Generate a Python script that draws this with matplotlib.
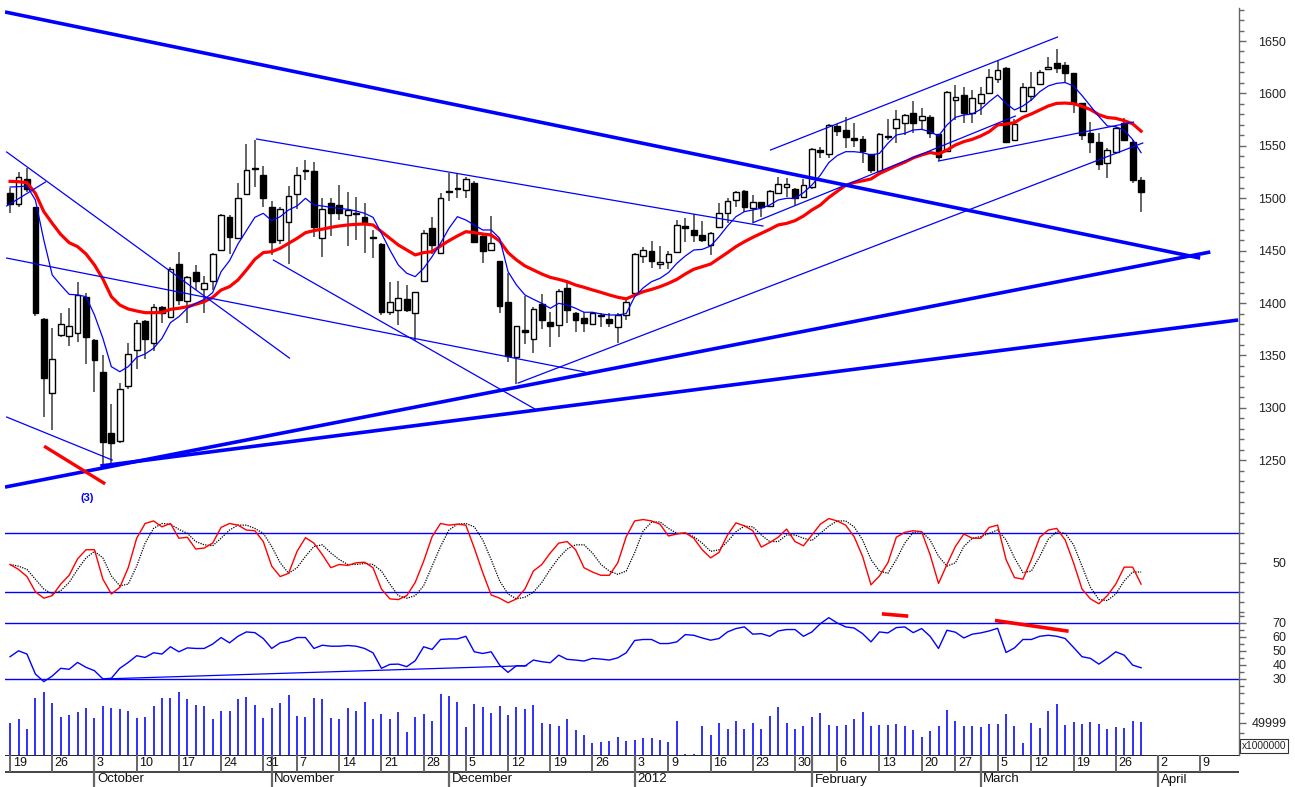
import numpy as np
import pandas as pd
import matplotlib
matplotlib.use('Agg')
import matplotlib.pyplot as plt
from matplotlib.ticker import FixedLocator, FixedFormatter, NullFormatter

plt.rcParams['font.family'] = ['Liberation Sans', 'DejaVu Sans']

# ---- daily candles (Sep 19 2011 .. Mar 29 2012) ----
opens = [1504.7, 1494.2, 1518.3, 1491.3, 1384.8, 1313.9, 1369.5, 1368.6, 1371.1, 1405.4,
         1364.7, 1333.9, 1276.3, 1268.7, 1321.2, 1355.2, 1382.9, 1362.2, 1395.9, 1386.4,
         1437.2, 1402.3, 1429.3, 1413.1, 1421.3, 1450.6, 1482.4, 1461.7, 1504.0, 1528.0,
         1522.0, 1491.3, 1460.1, 1477.6, 1504.0, 1526.0, 1526.0, 1461.7, 1495.1, 1493.2,
         1484.0, 1486.0, 1482.4, 1463.3, 1456.0, 1391.8, 1393.4, 1403.5, 1390.8, 1421.4,
         1471.3, 1447.4, 1506.9, 1509.0, 1507.9, 1514.8, 1464.0, 1450.6, 1440.1, 1400.7,
         1348.2, 1374.3, 1365.7, 1399.0, 1381.9, 1379.0, 1414.0, 1390.8, 1386.0, 1379.7,
         1388.0, 1385.1, 1377.5, 1388.6, 1410.0, 1444.9, 1450.0, 1437.0, 1438.8, 1449.0,
         1473.5, 1469.7, 1464.9, 1455.4, 1472.2, 1486.2, 1498.3, 1507.2, 1490.4, 1496.1,
         1492.9, 1505.3, 1511.0, 1508.5, 1501.5, 1511.0, 1546.0, 1542.2, 1568.9, 1565.1,
         1557.1, 1556.2, 1542.2, 1526.3, 1559.4, 1566.7, 1572.1, 1581.6, 1574.6, 1577.8,
         1561.3, 1545.4, 1593.7, 1598.5, 1581.0, 1591.2, 1600.0, 1613.4, 1623.9, 1555.6,
         1583.5, 1597.5, 1609.0, 1623.0, 1628.7, 1627.1, 1619.1, 1590.5, 1561.9, 1553.9,
         1533.3, 1544.4, 1571.4, 1553.9, 1517.3]
highs = [1509.4, 1525.0, 1529.0, 1492.0, 1386.0, 1375.9, 1390.2, 1395.0, 1420.4, 1409.9,
         1366.0, 1350.4, 1303.7, 1323.4, 1361.6, 1383.8, 1384.0, 1399.0, 1397.0, 1434.0,
         1449.0, 1426.0, 1436.3, 1426.1, 1448.0, 1484.6, 1484.0, 1514.8, 1551.7, 1556.0,
         1530.8, 1497.0, 1491.3, 1511.5, 1530.0, 1536.5, 1535.0, 1499.9, 1499.9, 1512.6,
         1506.3, 1501.5, 1495.8, 1470.0, 1457.0, 1420.4, 1421.4, 1417.2, 1410.4, 1469.7,
         1481.8, 1504.7, 1523.8, 1523.8, 1520.6, 1516.7, 1466.0, 1483.0, 1440.5, 1428.3,
         1378.5, 1407.0, 1396.6, 1408.3, 1391.8, 1413.0, 1420.4, 1391.0, 1391.8, 1391.0,
         1390.8, 1390.8, 1390.8, 1404.5, 1448.1, 1453.8, 1459.5, 1454.4, 1449.6, 1479.2,
         1480.8, 1484.9, 1478.6, 1468.0, 1495.8, 1499.9, 1507.2, 1507.5, 1503.1, 1496.5,
         1507.8, 1520.6, 1519.0, 1510.0, 1518.0, 1547.6, 1549.0, 1570.8, 1570.8, 1577.2,
         1572.0, 1559.4, 1542.5, 1561.9, 1575.3, 1584.2, 1580.0, 1593.0, 1585.8, 1579.4,
         1561.5, 1602.0, 1608.0, 1605.8, 1603.3, 1606.4, 1623.0, 1631.2, 1624.9, 1575.3,
         1610.2, 1620.7, 1622.3, 1635.0, 1642.0, 1630.3, 1619.5, 1591.0, 1573.0, 1561.9,
         1547.6, 1568.0, 1576.2, 1555.5, 1520.5]
lows = [1486.0, 1492.0, 1506.0, 1387.6, 1291.6, 1278.9, 1368.0, 1359.0, 1363.2, 1341.8,
        1315.4, 1243.9, 1247.0, 1266.0, 1318.0, 1336.8, 1346.3, 1354.6, 1381.3, 1385.4,
        1398.1, 1381.3, 1412.4, 1390.8, 1412.4, 1450.0, 1446.8, 1461.0, 1503.0, 1510.4,
        1491.3, 1446.0, 1456.3, 1437.0, 1490.0, 1517.0, 1463.0, 1443.6, 1464.0, 1479.2,
        1454.4, 1460.2, 1448.1, 1442.7, 1388.6, 1389.0, 1379.1, 1391.8, 1363.8, 1421.0,
        1446.8, 1447.0, 1497.7, 1500.0, 1499.9, 1457.0, 1437.9, 1450.0, 1390.8, 1344.1,
        1322.8, 1361.0, 1352.0, 1374.9, 1358.4, 1367.9, 1381.3, 1372.7, 1372.7, 1379.0,
        1376.8, 1377.5, 1361.6, 1383.8, 1409.0, 1438.0, 1433.0, 1432.2, 1432.2, 1449.0,
        1458.6, 1458.6, 1458.6, 1445.8, 1472.0, 1476.7, 1491.3, 1487.2, 1477.0, 1482.4,
        1492.5, 1505.0, 1500.8, 1493.5, 1501.0, 1509.0, 1538.0, 1538.0, 1559.4, 1547.6,
        1548.6, 1533.9, 1523.8, 1526.0, 1555.6, 1552.4, 1560.3, 1561.9, 1565.1, 1557.1,
        1535.8, 1544.4, 1574.6, 1571.5, 1571.5, 1579.4, 1599.5, 1610.2, 1552.4, 1555.0,
        1583.0, 1593.0, 1608.5, 1622.3, 1619.8, 1611.2, 1581.0, 1555.5, 1542.8, 1526.9,
        1519.0, 1542.8, 1555.0, 1514.2, 1487.1]
closes = [1494.5, 1520.6, 1508.5, 1390.2, 1328.2, 1346.6, 1380.0, 1378.1, 1407.7, 1367.3,
          1345.7, 1267.7, 1266.2, 1318.3, 1351.4, 1381.3, 1365.4, 1396.5, 1390.2, 1432.2,
          1402.9, 1425.2, 1421.0, 1419.4, 1446.8, 1484.0, 1463.3, 1499.9, 1526.5, 1529.0,
          1500.0, 1458.0, 1489.4, 1501.8, 1521.8, 1527.0, 1472.2, 1490.0, 1486.2, 1486.2,
          1488.8, 1485.0, 1476.7, 1461.8, 1391.8, 1401.3, 1404.5, 1393.4, 1410.2, 1466.5,
          1455.4, 1499.9, 1505.6, 1510.0, 1518.3, 1458.6, 1450.0, 1457.0, 1397.5, 1349.5,
          1378.1, 1372.7, 1394.0, 1383.8, 1378.1, 1411.5, 1393.4, 1383.8, 1380.7, 1390.8,
          1389.0, 1380.7, 1388.6, 1401.3, 1446.8, 1451.0, 1440.4, 1439.0, 1446.8, 1474.5,
          1471.3, 1464.9, 1460.1, 1466.5, 1485.6, 1497.3, 1505.6, 1491.9, 1496.7, 1491.3,
          1507.2, 1513.2, 1513.2, 1500.5, 1512.6, 1546.7, 1544.0, 1569.9, 1564.5, 1558.1,
          1555.6, 1545.4, 1526.9, 1561.3, 1558.1, 1575.3, 1579.4, 1571.5, 1578.4, 1561.9,
          1539.0, 1601.7, 1596.9, 1581.6, 1595.3, 1599.1, 1615.3, 1622.3, 1554.0, 1570.8,
          1605.8, 1605.8, 1620.7, 1625.5, 1624.0, 1619.2, 1590.5, 1560.3, 1553.9, 1532.3,
          1546.0, 1567.3, 1555.5, 1517.3, 1505.6]

# moving averages as drawn (thin blue = fast, thick red = slow)
ma_fast = [1510.7, 1511.0, 1511.7, 1498.3, 1460.1, 1426.7, 1417.2, 1408.3, 1407.7, 1406.1,
           1388.6, 1366.3, 1339.3, 1334.5, 1339.3, 1348.2, 1351.4, 1356.8, 1366.3, 1381.3,
           1387.0, 1395.0, 1399.7, 1403.5, 1409.9, 1429.9, 1440.4, 1456.3, 1469.1, 1481.8,
           1485.6, 1478.6, 1482.4, 1488.8, 1492.6, 1499.9, 1493.5, 1492.6, 1491.3, 1490.4,
           1489.4, 1487.8, 1485.6, 1481.8, 1466.5, 1450.6, 1436.3, 1428.4, 1425.2, 1433.1,
           1444.3, 1457.0, 1471.3, 1482.4, 1479.2, 1474.5, 1469.7, 1469.7, 1461.8, 1429.9,
           1417.2, 1407.7, 1403.6, 1399.7, 1395.0, 1399.7, 1398.1, 1395.0, 1391.2, 1391.2,
           1389.6, 1388.6, 1388.6, 1390.0, 1406.0, 1414.4, 1420.4, 1423.6, 1429.0, 1437.9,
           1444.9, 1450.6, 1451.2, 1454.4, 1463.3, 1473.5, 1482.4, 1487.2, 1488.8, 1490.4,
           1493.5, 1498.3, 1499.9, 1499.9, 1505.3, 1512.6, 1522.0, 1534.0, 1540.7, 1544.4,
           1544.4, 1543.5, 1541.2, 1542.8, 1552.4, 1560.3, 1561.9, 1565.1, 1565.7, 1563.5,
           1559.4, 1569.9, 1577.2, 1579.4, 1580.4, 1584.8, 1592.1, 1598.5, 1590.5, 1584.2,
           1588.0, 1593.7, 1601.7, 1607.1, 1609.6, 1610.4, 1607.0, 1598.0, 1588.0, 1578.0,
           1569.0, 1568.2, 1565.0, 1556.0, 1543.5]
ma_slow = [1516.1, 1515.8, 1514.8, 1504.7, 1487.2, 1476.0, 1465.5, 1457.6, 1453.8, 1446.8,
           1436.3, 1422.9, 1406.1, 1398.1, 1394.3, 1392.4, 1390.8, 1390.8, 1391.1, 1394.0,
           1395.0, 1396.5, 1398.8, 1401.3, 1405.4, 1412.4, 1415.6, 1422.0, 1431.5, 1441.7,
           1448.1, 1449.0, 1452.2, 1457.0, 1461.7, 1467.1, 1469.1, 1470.5, 1472.2, 1473.5,
           1474.5, 1475.1, 1475.4, 1474.5, 1468.1, 1461.8, 1455.4, 1450.6, 1445.9, 1448.1,
           1449.0, 1454.4, 1459.5, 1464.0, 1468.1, 1467.2, 1465.9, 1464.9, 1459.2, 1448.1,
           1441.1, 1435.4, 1431.5, 1427.7, 1424.5, 1422.6, 1420.4, 1417.2, 1415.0, 1412.5,
           1410.2, 1407.7, 1405.5, 1404.0, 1407.5, 1410.8, 1413.0, 1415.6, 1418.8, 1422.6,
           1427.7, 1432.2, 1434.7, 1437.2, 1442.6, 1448.1, 1453.8, 1458.5, 1462.7, 1466.5,
           1470.3, 1474.5, 1476.0, 1478.6, 1483.0, 1488.8, 1493.5, 1500.7, 1506.6, 1512.3,
           1515.0, 1516.6, 1518.4, 1523.5, 1527.3, 1531.0, 1534.4, 1538.5, 1541.3, 1543.6,
           1542.2, 1546.0, 1550.8, 1554.0, 1556.2, 1559.4, 1563.5, 1569.9, 1570.8, 1572.1,
           1577.2, 1580.4, 1584.2, 1588.0, 1590.5, 1590.8, 1590.2, 1587.8, 1584.6, 1579.7,
           1577.0, 1576.2, 1574.0, 1571.0, 1564.0]

# stochastic %K / %D
stoch_k = [48, 43, 35.7, 20.3, 13.7, 16.3, 28, 37, 53.7, 63,
           63, 33, 18, 24.7, 44.7, 74.7, 89.7, 92.3, 86.3, 89.7,
           74.7, 75.7, 63.7, 64.7, 69.7, 85.7, 89.7, 88, 83, 82.3,
           71.3, 46.3, 35.7, 39, 61.3, 75.3, 69.7, 58, 44.7, 48,
           47, 49.7, 50.3, 44.7, 23, 13, 12.3, 16.3, 29.7, 51.3,
           76.3, 89.7, 88, 89, 88, 64.7, 39.7, 17, 13.7, 9,
           13, 23, 41.3, 48, 59.7, 69.7, 71.3, 63, 44.7, 40.3,
           37, 37, 49.7, 76.3, 92.3, 93.7, 92.3, 89, 77, 79,
           80.3, 74.7, 63, 54.7, 60.3, 78, 90.3, 87.3, 82.3, 65.7,
           70.3, 75.7, 84, 71.3, 67, 78, 89, 94.7, 92.3, 88,
           76.3, 56.3, 27.3, 36.3, 49.7, 75.7, 80.7, 82.3, 81.3, 58,
           28.7, 48, 66.3, 79, 74.7, 74.7, 85.7, 88, 53, 34.7,
           33, 53, 75.7, 83, 84.7, 73, 49.7, 23, 13, 8,
           16.3, 28, 45.3, 45.3, 28]
stoch_d = [48, 46.3, 43, 33, 23, 18, 21.3, 29.7, 43, 54.7,
           61.3, 54.7, 36.3, 26.3, 28, 46.3, 69.7, 84.7, 89.7, 89,
           83.7, 79.7, 71.3, 68, 67, 74.7, 83, 88, 88, 84.7,
           79.7, 66.3, 49.7, 39, 44.7, 56.3, 66.3, 68, 59.7, 53,
           48, 48, 49, 48, 41.3, 28, 16.3, 13.7, 16.3, 26.3,
           46.3, 66.3, 83, 89, 89.7, 86.3, 73, 53, 31.3, 18,
           13, 14.7, 19.7, 29.7, 43, 54.7, 63.7, 68, 68, 59.7,
           48, 41.3, 38, 41.3, 60, 82, 91, 91.3, 84.7, 79.7,
           79.7, 76.3, 69.7, 61.3, 63, 71.3, 81.3, 87, 86.3, 78,
           71.3, 71.3, 78, 78, 74.7, 72.3, 79.7, 87, 92.3, 92.3,
           86.3, 73, 53, 41.3, 39, 53, 69.7, 80.7, 81.3, 73,
           56.3, 46.3, 49.7, 66.3, 74.7, 76.3, 79.7, 83, 73, 54.7,
           39.7, 41.3, 56.3, 73.7, 81.3, 79.7, 68, 46.3, 24.7, 12.3,
           11.3, 18, 31.3, 40.3, 40.3]

# RSI
rsi = [45.9, 50.1, 47.8, 33.5, 28.1, 32.1, 37.6, 36.9, 41.8, 38.3,
       35.9, 30, 30.5, 37.6, 41.8, 46.6, 45.4, 48.7, 47.8, 53,
       49.4, 52.2, 51.8, 51.8, 54.9, 59.6, 55.8, 60.5, 63.6, 63.1,
       58.9, 51.8, 55.8, 57.2, 59.6, 59.6, 51.8, 54.1, 53.4, 53.4,
       53.9, 53.4, 51.8, 48.7, 37.6, 40.4, 40.6, 38.8, 43, 53,
       51.1, 58.2, 58.6, 58.6, 60.5, 49.4, 48.2, 49.4, 39.9, 34.7,
       39.5, 39.2, 43.5, 42.3, 41.6, 47, 44, 43.5, 42.8, 44.7,
       44.2, 43.5, 45.1, 48.7, 57.5, 58.2, 58.2, 55.3, 55.3, 56.5,
       61.7, 61.2, 59.3, 57.7, 58.9, 63.6, 66, 67.2, 62, 62.4,
       60.5, 64.3, 65.3, 65.3, 60.5, 63.6, 69.5, 73.8, 70, 67.2,
       66.4, 62.4, 56.5, 63.6, 62.9, 66.7, 67.2, 63.1, 66, 60.5,
       51.8, 64.8, 63.4, 59.3, 62, 62.9, 64.3, 66.2, 48.9, 52.2,
       58.2, 58.2, 60.5, 61.2, 60.5, 58.9, 52.5, 45.9, 44.7, 40.6,
       44.7, 49.4, 47, 39.9, 38]

# volume (x 1,000,000)
volume = [50500, 55700, 40100, 89600, 99000, 80700, 58900, 62500, 67700, 72900,
          57300, 76600, 72900, 71400, 68700, 57300, 58900, 76600, 89600, 89600,
          99000, 87500, 78100, 76600, 55700, 68700, 68700, 87500, 91100, 78100,
          57300, 72900, 81800, 93700, 60900, 58900, 89600, 87500, 57300, 55700,
          72900, 68700, 83300, 55700, 63500, 55700, 66700, 36500, 58900, 63500,
          53600, 95300, 92700, 83300, 44300, 79700, 75500, 65100, 76600, 62500,
          75500, 71900, 78100, 49500, 47900, 45800, 55700, 39100, 31200, 18200,
          20800, 21900, 28600, 21900, 23400, 26500, 26000, 23400, 19800, 53600,
          1560, 1560, 45300, 31200, 49500, 40600, 53600, 40600, 50500, 40600,
          60900, 75500, 50500, 40600, 45300, 58900, 65100, 46900, 45300, 46900,
          55700, 66700, 45300, 46900, 46900, 48400, 45300, 39100, 27600, 37500,
          45300, 70300, 53600, 45300, 45300, 44300, 48400, 48400, 64100, 45300,
          18200, 50500, 42700, 68700, 79700, 46900, 52100, 48400, 52100, 48400,
          40600, 43200, 42700, 53600, 52100]

holidays = ['2011-11-04', '2012-01-02', '2012-02-23', '2012-03-08']

# hand-drawn trend lines: (day index, price) -> (day index, price)
thick_lines = [((-0.6, 1677.7), (141.0, 1442.9)),
               ((-0.6, 1224.4), (142.2, 1448.7)),
               ((10.7, 1244.5), (145.5, 1383.8))]
thin_lines = [((-0.4, 1544.1), (33.1, 1347.5)),
              ((-0.4, 1442.9), (68.1, 1334.2)),
              ((-0.4, 1291.2), (12.1, 1250.2)),
              ((-0.4, 1492.6), (4.2, 1515.5)),
              ((29.2, 1556.5), (89.2, 1473.5)),
              ((31.2, 1441.0), (62.2, 1298.8)),
              ((60.2, 1323.7), (134.2, 1552.7)),
              ((88.0, 1476.6), (119.1, 1578.4)),
              ((90.1, 1546.0), (124.1, 1653.8)),
              ((110.0, 1535.5), (133.1, 1572.7))]
red_price_line = ((4.2, 1262.6), (11.1, 1228.3))
rsi_thin_line = ((11.1, 30.0), (61.2, 39.5))
rsi_red_lines = [((103.5, 76.4), (106.2, 75.0)),
                 ((116.9, 71.6), (125.2, 64.3))]

BLUE = '#0000ff'
RED = '#ff0000'

days = pd.bdate_range('2011-09-19', '2012-04-13')
days = days[~days.isin(pd.to_datetime(holidays))]
n = len(closes)
x = np.arange(n)
o = np.array(opens)
c = np.array(closes)

W, H = 1295, 787
fig = plt.figure(figsize=(W / 100, H / 100), dpi=100)


def panel(top, bottom):
    left, right = 5, 1239
    ax = fig.add_axes([left / W, 1 - bottom / H, (right - left) / W, (bottom - top) / H])
    ax.set_xlim(-0.6, 145.6)
    for s in ['top', 'left', 'bottom']:
        ax.spines[s].set_visible(False)
    ax.spines['right'].set_color('#666666')
    ax.spines['right'].set_linewidth(1.0)
    ax.set_xticks([])
    ax.yaxis.tick_right()
    ax.tick_params(axis='y', which='major', length=5, width=1, colors='#666666',
                   labelcolor='#222222', labelsize=9, pad=29)
    ax.tick_params(axis='y', which='minor', length=3.3, width=1, colors='#666666')
    return ax


def set_ticks(ax, major, labels, minor):
    ax.yaxis.set_major_locator(FixedLocator(major))
    ax.yaxis.set_major_formatter(FixedFormatter(labels))
    ax.yaxis.set_minor_locator(FixedLocator(minor))
    ax.yaxis.set_minor_formatter(NullFormatter())
    for t in ax.yaxis.get_major_ticks():
        t.label2.set_horizontalalignment('right')


ax_p = panel(8, 505)
ax_s = panel(505, 615)
ax_r = panel(615, 690)
ax_v = panel(690, 755)
ax_d = panel(755, 787)

# ---- price panel ----
ax_p.set_ylim(1207.3, 1681.5)
pmaj = list(range(1250, 1651, 50))
set_ticks(ax_p, pmaj, [str(v) for v in pmaj], list(range(1210, 1681, 10)))

ax_p.vlines(x, lows, highs, color='#3a3a3a', lw=1.1, zorder=2)
up = c >= o
body_lo = np.minimum(o, c)
body_h = np.maximum(np.abs(c - o), 0.4)
ax_p.bar(x, body_h, bottom=body_lo, width=0.68,
         color=np.where(up, 'white', 'black'), edgecolor='black', linewidth=1.0, zorder=3)

ax_p.plot(x, ma_slow, color=RED, lw=2.3, zorder=4)
ax_p.plot(x, ma_fast, color=BLUE, lw=0.9, zorder=4)

for (x0, y0), (x1, y1) in thick_lines:
    ax_p.plot([x0, x1], [y0, y1], color=BLUE, lw=2.6, zorder=5, solid_capstyle='butt')
for (x0, y0), (x1, y1) in thin_lines:
    ax_p.plot([x0, x1], [y0, y1], color=BLUE, lw=0.9, zorder=5)
(x0, y0), (x1, y1) = red_price_line
ax_p.plot([x0, x1], [y0, y1], color=RED, lw=2.4, zorder=5)
ax_p.text(9.1, 1214, '(3)', color=BLUE, fontsize=8, fontweight='bold',
          ha='center', va='center')

# ---- stochastic ----
ax_s.set_ylim(-3.4, 108.5)
set_ticks(ax_s, [50], ['50'], list(range(0, 101, 10)))
ax_s.axhline(80, color=BLUE, lw=1.0)
ax_s.axhline(20, color=BLUE, lw=1.0)
ax_s.plot(x, stoch_d, color='black', lw=0.9, ls=(0, (1, 1)))
ax_s.plot(x, stoch_k, color=RED, lw=1.0)

# ---- RSI ----
ax_r.set_ylim(22.1, 75.7)
rmaj = [30, 40, 50, 60, 70]
set_ticks(ax_r, rmaj, [str(v) for v in rmaj], list(range(25, 76, 5)))
ax_r.axhline(70, color=BLUE, lw=1.0)
ax_r.axhline(30, color=BLUE, lw=1.0)
ax_r.plot(x, rsi, color=BLUE, lw=1.0)
(x0, y0), (x1, y1) = rsi_thin_line
ax_r.plot([x0, x1], [y0, y1], color=BLUE, lw=0.9)
for (x0, y0), (x1, y1) in rsi_red_lines:
    ax_r.plot([x0, x1], [y0, y1], color=RED, lw=2.6, clip_on=False)

# ---- volume ----
ax_v.set_ylim(0, 101560)
set_ticks(ax_v, [49999], ['49999'], [18749, 34374, 65624, 81249, 96874])
ax_v.vlines(x, 0, volume, color='#1f1fff', lw=1.3)
fig.text(1242 / W, 1 - 746 / H, 'x1000000', fontsize=7.3, color='#222222',
         va='center', ha='left',
         bbox=dict(boxstyle='square,pad=0.15', fc='white', ec='#333333', lw=0.8))

# ---- date axis ----
ax_d.set_ylim(0, 1)
ax_d.spines['right'].set_visible(False)
ax_d.set_yticks([])
mid = (787 - 772) / 32
ax_d.axhline(1, color='black', lw=1.2)
ax_d.axhline(mid, color='#222222', lw=1.2)
for i, d in enumerate(days):
    if i == 0 or d.isocalendar()[1] != days[i - 1].isocalendar()[1]:
        ax_d.vlines(i, mid, 1, color='#666666', lw=1.4)
        ax_d.text(i + 0.3, (1 + mid) / 2, str(d.day), fontsize=9, color='#111111',
                  ha='left', va='center')
    if i > 0 and d.month != days[i - 1].month:
        ax_d.vlines(i, 0, 1, color='#666666', lw=1.6)
        name = str(d.year) if d.month == 1 else d.strftime('%B')
        ax_d.text(i + 0.3, mid / 2, name, fontsize=9.5, color='#111111',
                  ha='left', va='center')

fig.savefig('out.png', dpi=100, facecolor='white')
